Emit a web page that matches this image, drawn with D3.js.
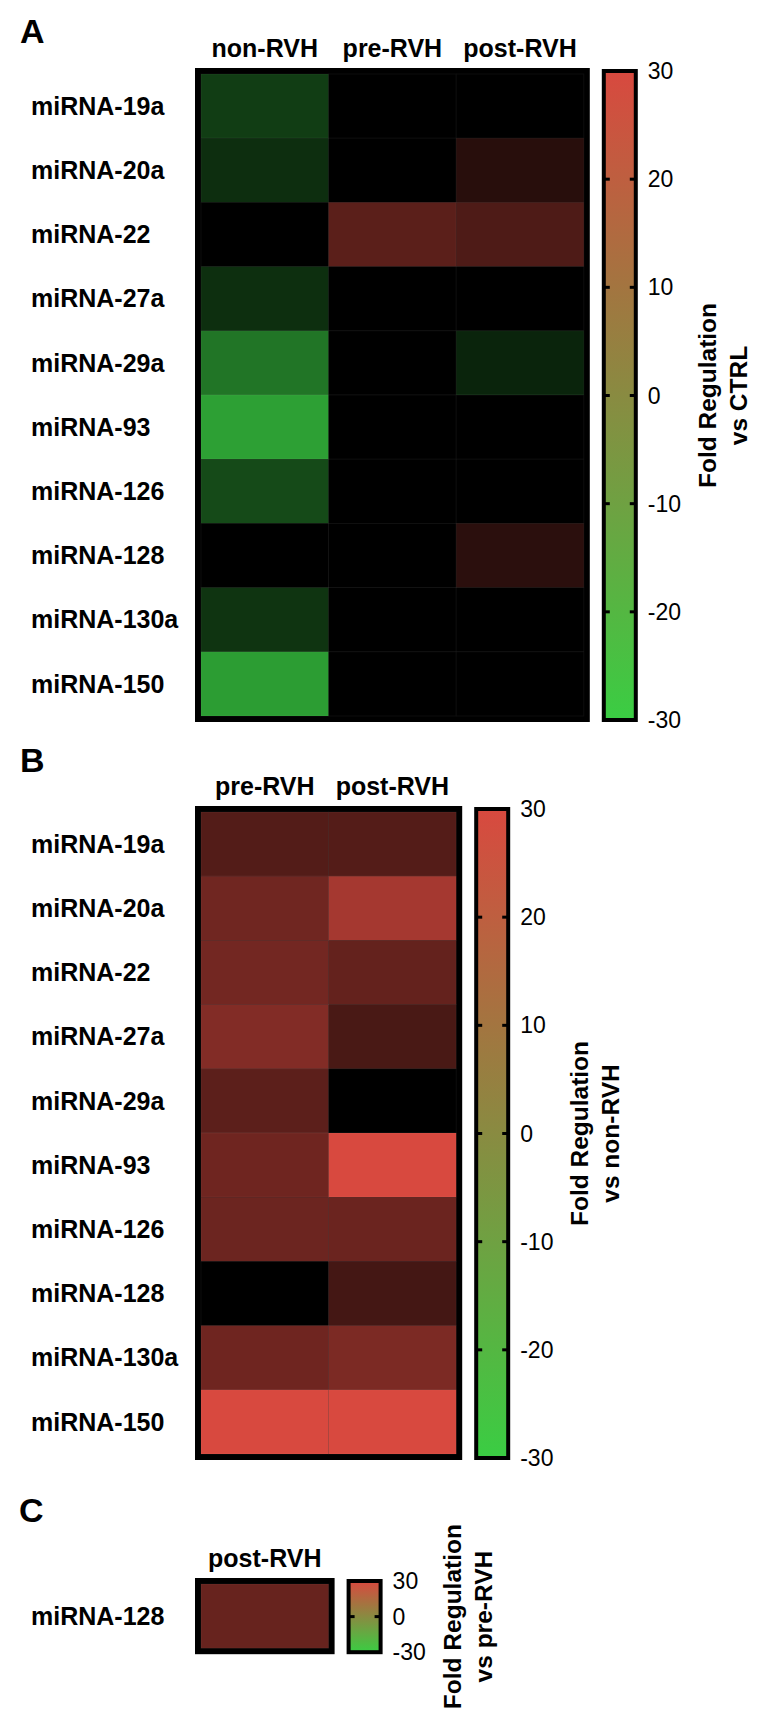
<!DOCTYPE html>
<html>
<head>
<meta charset="utf-8">
<script src="https://cdn.jsdelivr.net/npm/d3@7"></script>
<style>
  html, body { margin: 0; padding: 0; background: #fff; }
  svg { display: block; }
  text { font-family: "Liberation Sans", Arial, Helvetica, sans-serif; fill: #000; }
</style>
</head>
<body>
<svg id="chart" width="762" height="1711"></svg>
<script>
// ---------- DATA ----------
const mirnas = ["miRNA-19a","miRNA-20a","miRNA-22","miRNA-27a","miRNA-29a","miRNA-93","miRNA-126","miRNA-128","miRNA-130a","miRNA-150"];

// Panel A: fold regulation vs CTRL
const groupsA = ["non-RVH","pre-RVH","post-RVH"];
const nonRVH_vsCTRL  = [-8.9, -6.7, 0, -6.9, -17.1, -23.4, -10.8, 0, -7.6, -23.0];
const preRVH_vsCTRL  = [0, 0, 12.6, 0, 0, 0, 0, 0, 0, 0];
const postRVH_vsCTRL = [0, 5.6, 10.9, 0, -5.3, 0, 0, 6.0, 0, 0];

// Panel B: fold regulation vs non-RVH
const groupsB = ["pre-RVH","post-RVH"];
const preRVH_vsNonRVH  = [11.5, 15.6, 16.0, 18.1, 12.8, 15.4, 15.0, 0, 15.4, 30];
const postRVH_vsNonRVH = [11.6, 22.9, 13.9, 10.2, 0, 30, 14.9, 9.4, 17.2, 30];

// Panel C: fold regulation vs pre-RVH
const mirnasC = ["miRNA-128"];
const groupsC = ["post-RVH"];
const postRVH_vsPreRVH = [14.3];

// colour-bar ticks
const ticksAB = [30, 20, 10, 0, -10, -20, -30];
const ticksC  = [30, 0, -30];

// ---------- STYLE / LAYOUT ----------
const RED = "#d8493f", GREEN = "#3acd43";
const cellColor = d3.scaleLinear().domain([-30, 0, 30]).range([GREEN, "#000000", RED]).clamp(true);
const barColor  = d3.scaleLinear().domain([-30, 30]).range([GREEN, RED]).interpolate(d3.interpolateRgb);

const svg = d3.select("#chart");
svg.append("rect").attr("width", 762).attr("height", 1711).attr("fill", "#fff");
const defs = svg.append("defs");

const CELL_X0 = 201, COL_W = 127.6, ROW_H = 64.2;

function drawPanel(cfg, idx) {
  const g = svg.append("g");
  const x = d3.scaleBand().domain(cfg.cols).range([CELL_X0, CELL_X0 + cfg.cols.length * COL_W]);
  const y = d3.scaleBand().domain(cfg.rows).range([cfg.top, cfg.top + cfg.rows.length * ROW_H]);
  const [x0, x1] = x.range(), [y0, y1] = y.range();

  // panel letter
  g.append("text").attr("x", cfg.letterX).attr("y", cfg.letterY)
    .attr("font-size", 34).attr("font-weight", "bold").text(cfg.letter);

  // frame
  g.append("rect").attr("x", x0 - 3).attr("y", y0 - 3)
    .attr("width", x1 - x0 + 6).attr("height", y1 - y0 + 6)
    .attr("fill", "#000").attr("stroke", "#000").attr("stroke-width", 6);

  // cells
  const cells = [];
  cfg.cols.forEach((c, ci) => cfg.values[ci].forEach((v, ri) => cells.push({c, r: cfg.rows[ri], v})));
  g.selectAll("rect.cell").data(cells).enter().append("rect")
    .attr("class", "cell")
    .attr("x", d => x(d.c)).attr("y", d => y(d.r))
    .attr("width", x.bandwidth()).attr("height", y.bandwidth())
    .attr("fill", d => cellColor(d.v))
    .attr("stroke", "rgba(255,255,255,0.06)").attr("stroke-width", 0.8);

  // column headers
  g.selectAll("text.col").data(cfg.cols).enter().append("text")
    .attr("x", d => x(d) + x.bandwidth() / 2).attr("y", y0 - 17)
    .attr("text-anchor", "middle").attr("font-size", 25).attr("font-weight", "bold").text(d => d);

  // row labels
  g.selectAll("text.row").data(cfg.rows).enter().append("text")
    .attr("x", 31).attr("y", d => y(d) + y.bandwidth() / 2).attr("dy", "0.35em")
    .attr("font-size", 25).attr("font-weight", "bold").text(d => d);

  // colour bar
  const cbL = x1 + 18;            // outer left
  const cbR = cbL + 36;           // outer right
  const cbScale = d3.scaleLinear().domain([30, -30]).range([y0 - 3, y1 + 4]);
  const gid = "grad" + idx;
  const grad = defs.append("linearGradient").attr("id", gid)
    .attr("x1", 0).attr("y1", 0).attr("x2", 0).attr("y2", 1);
  d3.range(30, -31, -10).forEach(v => {
    grad.append("stop").attr("offset", (30 - v) / 60).attr("stop-color", barColor(v));
  });
  g.append("rect").attr("x", cbL + 2).attr("y", cbScale(30))
    .attr("width", 32).attr("height", cbScale(-30) - cbScale(30))
    .attr("fill", `url(#${gid})`).attr("stroke", "#000").attr("stroke-width", 4);

  // inner tick marks
  const inner = cfg.ticks.filter(t => t !== 30 && t !== -30);
  inner.forEach(t => {
    g.append("line").attr("x1", cbL + 2).attr("x2", cbL + 8).attr("y1", cbScale(t)).attr("y2", cbScale(t))
      .attr("stroke", "#000").attr("stroke-width", 3);
    g.append("line").attr("x1", cbR - 8).attr("x2", cbR - 2).attr("y1", cbScale(t)).attr("y2", cbScale(t))
      .attr("stroke", "#000").attr("stroke-width", 3);
  });

  // tick labels
  g.selectAll("text.tick").data(cfg.ticks).enter().append("text")
    .attr("x", cbR + 10).attr("y", d => cbScale(d)).attr("dy", "0.35em")
    .attr("font-size", 23).text(d => d);

  // title
  const cy = cbScale(0);
  cfg.title.forEach((line, i) => {
    const bx = cbR + 78 + i * 31;
    g.append("text").attr("transform", `translate(${bx},${cy}) rotate(-90)`)
      .attr("text-anchor", "middle").attr("font-size", 24.5).attr("font-weight", "bold").text(line);
  });
}

drawPanel({
  letter: "A", letterX: 20, letterY: 43, rows: mirnas, cols: groupsA,
  values: [nonRVH_vsCTRL, preRVH_vsCTRL, postRVH_vsCTRL], top: 74,
  ticks: ticksAB, title: ["Fold Regulation", "vs CTRL"]
}, 0);

drawPanel({
  letter: "B", letterX: 20, letterY: 772, rows: mirnas, cols: groupsB,
  values: [preRVH_vsNonRVH, postRVH_vsNonRVH], top: 812,
  ticks: ticksAB, title: ["Fold Regulation", "vs non-RVH"]
}, 1);

drawPanel({
  letter: "C", letterX: 19, letterY: 1522, rows: mirnasC, cols: groupsC,
  values: [postRVH_vsPreRVH], top: 1584,
  ticks: ticksC, title: ["Fold Regulation", "vs pre-RVH"]
}, 2);
</script>
</body>
</html>
